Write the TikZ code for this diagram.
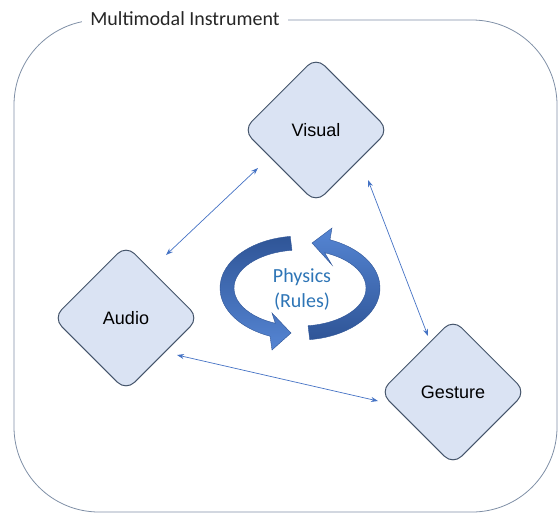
\documentclass[tikz,border=0pt]{standalone}
\usepackage{fontspec}
\setmainfont{Carlito}
\newfontfamily\labelfont{Liberation Sans}
\usetikzlibrary{shapes.geometric,arrows.meta,calc}
\definecolor{boxfill}{HTML}{DAE3F3}
\definecolor{boxline}{HTML}{44546A}
\definecolor{linkblue}{HTML}{4472C4}
\definecolor{frameline}{HTML}{7F8FA6}
\definecolor{ribbondark}{HTML}{2F5597}
\definecolor{ribbonlight}{HTML}{5585D3}
\definecolor{physicstext}{HTML}{2E75B6}

\begin{document}
\begin{tikzpicture}[x=1pt,y=-1pt,
  mode/.style={diamond, aspect=1, minimum size=146pt, inner sep=0pt,
    rounded corners=12pt, draw=boxline, line width=1pt, fill=boxfill,
    font=\labelfont\fontsize{18}{22}\selectfont},
  link/.style={draw=linkblue, line width=0.7pt,
    {Stealth[length=7pt,width=5pt]}-{Stealth[length=7pt,width=5pt]}},
  ribbon/.style={draw=ribbondark, line width=0.4pt}]

\useasboundingbox (0,0) rectangle (559,515);

% outer frame with its title
\draw[frameline, line width=0.8pt, rounded corners=85pt] (14,20) rectangle (557,512);
\node[fill=white, inner xsep=8pt, inner ysep=2pt, font=\fontsize{20}{24}\selectfont,
      text=black!85] (title) at (185,19) {Multimodal Instrument};

% the three modalities
\node[mode] (visual)  at (316,130) {Visual};
\node[mode] (audio)   at (126,318) {Audio};
\node[mode] (gesture) at (453,392) {Gesture};

% two-way links between modalities
\draw[link] ([shift={(40,-63)}]audio.center) -- ([shift={(-58,38)}]visual.center);
\draw[link] ([shift={(52,50)}]visual.center) -- ([shift={(-25,-56)}]gesture.center);
\draw[link] ([shift={(51,37)}]audio.center) -- ([shift={(-75,9)}]gesture.center);

% circular ribbon arrows around the centre
\begin{scope}[shift={(300,288)}]
  \path[ribbon, top color=ribbondark, bottom color=ribbonlight]
    (263:80 and 52) arc[start angle=263, end angle=112, x radius=80, y radius=52]
    -- (-28,62) -- (-9,45) -- (-28,25)
    -- (112:66 and 38) arc[start angle=112, end angle=263, x radius=66, y radius=38]
    -- cycle;
  \path[ribbon, top color=ribbonlight, bottom color=ribbondark]
    (83:80 and 52) arc[start angle=83, end angle=-68, x radius=80, y radius=52]
    -- (32,-60) -- (12,-45) -- (32,-23)
    -- (-68:66 and 38) arc[start angle=-68, end angle=83, x radius=66, y radius=38]
    -- cycle;
\end{scope}
\node[text=physicstext, align=center, font=\fontsize{20}{25}\selectfont]
  (physics) at (302,289) {Physics\\(Rules)};

\end{tikzpicture}
\end{document}
